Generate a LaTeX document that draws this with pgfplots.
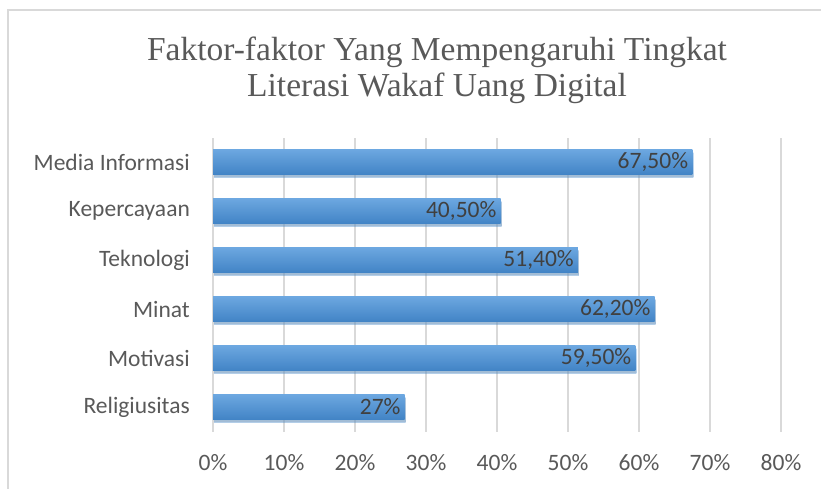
\documentclass[border=0pt]{standalone}
\usepackage{pgfplots}
\pgfplotsset{compat=1.18}
\usepackage{fontspec}
\setmainfont{Carlito}
\newfontfamily\titlefont{Liberation Serif}
\usetikzlibrary{shadows}
\definecolor{gridc}{RGB}{217,217,217}
\definecolor{txt}{RGB}{89,89,89}
\definecolor{lbl}{RGB}{64,64,64}
\definecolor{bartop}{RGB}{108,167,224}
\definecolor{barbot}{RGB}{66,132,198}
\pgfplotsset{mybar/.style={draw=none, top color=bartop, bottom color=barbot, bar shift=0pt,
  drop shadow={shadow xshift=1pt, shadow yshift=-3pt, fill=black!30, opacity=0.4},
  nodes near coords, point meta=explicit symbolic,
  nodes near coords style={anchor=east, xshift=-4pt, inner sep=0pt, font=\fontsize{23.5}{27}\selectfont, text=lbl}}}
\begin{document}
\begin{tikzpicture}
\path[use as bounding box] (0pt,0pt) rectangle (821pt,488pt);
\clip (0pt,0pt) rectangle (821pt,488pt);
\draw[gridc, line width=1.5pt] (8pt,-10pt) -- (8pt,478pt) -- (840pt,478pt);
\node[font=\titlefont\fontsize{33.5}{38}\selectfont, text=txt, anchor=base] at (437pt,427pt) {Faktor-faktor Yang Mempengaruhi Tingkat};
\node[font=\titlefont\fontsize{33.5}{38}\selectfont, text=txt, anchor=base] at (437pt,391pt) {Literasi Wakaf Uang Digital};
\begin{axis}[
  at={(213pt,56.5pt)}, anchor=south west,
  scale only axis, width=568pt, height=294pt,
  xmin=0, xmax=80, ymin=-0.5, ymax=5.5,
  axis line style={draw=none},
  major tick length=0pt,
  xmajorgrids, grid style={gridc, line width=1.5pt},
  xtick={0,10,...,80},
  xticklabels={0\%,10\%,20\%,30\%,40\%,50\%,60\%,70\%,80\%},
  ytick={0,1,2,3,4,5},
  yticklabels={Religiusitas,Motivasi,Minat,Teknologi,Kepercayaan,Media Informasi},
  tick label style={font=\fontsize{23.5}{27}\selectfont, text=txt, inner sep=0pt},
  xticklabel style={anchor=north, yshift=-23pt},
  yticklabel style={anchor=east, xshift=-23pt},
  xbar, bar width=24.5pt,
  clip=false,
]
\addplot[mybar] coordinates {(27,0) [27\%]};
\addplot[mybar] coordinates {(59.5,1) [59,50\%]};
\addplot[mybar] coordinates {(62.2,2) [62,20\%]};
\addplot[mybar] coordinates {(51.4,3) [51,40\%]};
\addplot[mybar] coordinates {(40.5,4) [40,50\%]};
\addplot[mybar] coordinates {(67.5,5) [67,50\%]};
\end{axis}
\end{tikzpicture}
\end{document}
